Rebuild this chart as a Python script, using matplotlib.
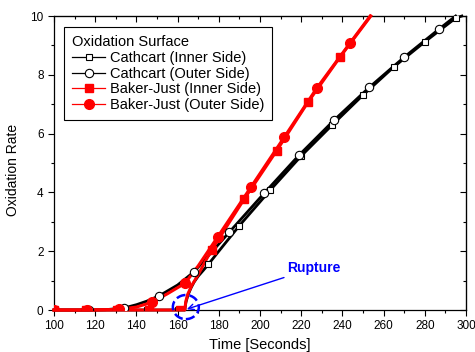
import matplotlib
matplotlib.use("Agg")
import matplotlib.pyplot as plt
from matplotlib.patches import Ellipse

plt.rcParams['font.family'] = ['Liberation Sans', 'DejaVu Sans']

# line traces
cath_in_x = [100, 163.5, 164, 165, 166.5, 168, 170, 172.5, 175, 180, 190, 205, 220, 235, 250, 265, 280, 295, 298]
cath_in_y = [0, 0, 0.25, 0.5, 0.75, 0.95, 1.15, 1.35, 1.56, 2.0, 2.87, 4.08, 5.24, 6.29, 7.31, 8.27, 9.12, 9.93, 10.0]
cath_out_x = [100, 117, 125, 134, 140, 145, 151, 160, 168, 175, 185, 202, 219, 236, 253, 270, 287, 295]
cath_out_y = [0, 0, 0.01, 0.07, 0.18, 0.3, 0.48, 0.85, 1.3, 1.85, 2.64, 3.97, 5.27, 6.46, 7.57, 8.6, 9.56, 10.0]
bj_in_x = [100, 163.5, 164, 165, 167, 170, 173, 176.5, 192.2, 208.1, 223.2, 238.8, 253.8]
bj_in_y = [0, 0, 0.3, 0.55, 0.85, 1.2, 1.6, 2.04, 3.76, 5.42, 7.06, 8.6, 10.0]
bj_out_x = [100, 115, 131.5, 140, 147.4, 155, 163.6, 170, 179.5, 195.5, 211.7, 227.5, 243.7, 253.5]
bj_out_y = [0, 0, 0.02, 0.1, 0.26, 0.55, 0.91, 1.5, 2.49, 4.17, 5.87, 7.54, 9.08, 10.0]

# marker positions
cath_in_mx = [100, 115, 130, 145, 160, 175, 190, 205, 220, 235, 250, 265, 280, 295]
cath_in_my = [0, 0, 0, 0, 0, 1.56, 2.87, 4.08, 5.24, 6.29, 7.31, 8.27, 9.12, 9.93]
cath_out_mx = [100, 117, 134, 151, 168, 185, 202, 219, 236, 253, 270, 287]
cath_out_my = [0, 0, 0.07, 0.48, 1.3, 2.64, 3.97, 5.27, 6.46, 7.57, 8.6, 9.56]
bj_in_mx = [100, 115.3, 130.6, 145.9, 161.2, 176.5, 192.2, 208.1, 223.2, 238.8]
bj_in_my = [0, 0, 0, 0, 0, 2.04, 3.76, 5.42, 7.06, 8.6]
bj_out_mx = [100, 115.8, 131.5, 147.4, 163.6, 179.5, 195.5, 211.7, 227.5, 243.7]
bj_out_my = [0, 0, 0.02, 0.26, 0.91, 2.49, 4.17, 5.87, 7.54, 9.08]

fig = plt.figure(figsize=(4.75, 3.52), dpi=100)
ax = fig.add_axes([0.1137, 0.1193, 0.8673, 0.8352])

ax.plot(cath_in_x, cath_in_y, color='k', lw=2.0, clip_on=False, zorder=3)
ax.plot(cath_out_x, cath_out_y, color='k', lw=2.0, clip_on=False, zorder=3)
ax.plot(bj_in_x, bj_in_y, color='red', lw=2.2, clip_on=False, zorder=4)
ax.plot(bj_out_x, bj_out_y, color='red', lw=2.2, clip_on=False, zorder=4)

# markers are clipped at the axes, so the ones on y=0 show only half
ax.plot(cath_in_mx, cath_in_my, ls='none', marker='s', ms=5, mfc='white', mec='k', mew=0.8, zorder=5)
ax.plot(cath_out_mx, cath_out_my, ls='none', marker='o', ms=6, mfc='white', mec='k', mew=0.8, zorder=5)
ax.plot(bj_in_mx, bj_in_my, ls='none', marker='s', ms=6, color='red', zorder=6)
ax.plot(bj_out_mx, bj_out_my, ls='none', marker='o', ms=7, color='red', zorder=6)

# legend handles
h1, = ax.plot([], [], color='k', lw=0.9, marker='s', ms=5, mfc='white', mec='k', mew=0.8)
h2, = ax.plot([], [], color='k', lw=0.9, marker='o', ms=6, mfc='white', mec='k', mew=0.8)
h3, = ax.plot([], [], color='red', lw=0.9, marker='s', ms=6)
h4, = ax.plot([], [], color='red', lw=0.9, marker='o', ms=7)
leg = ax.legend([h1, h2, h3, h4],
                ['Cathcart (Inner Side)', 'Cathcart (Outer Side)',
                 'Baker-Just (Inner Side)', 'Baker-Just (Outer Side)'],
                title='Oxidation Surface', loc='upper left',
                bbox_to_anchor=(0.024, 0.962), fontsize=10.5, title_fontsize=10.5,
                frameon=True, fancybox=False, edgecolor='k', framealpha=1,
                handlelength=2.3, handletextpad=0.3, labelspacing=0.12,
                borderpad=0.55, borderaxespad=0)
leg.get_frame().set_linewidth(0.8)
leg._legend_box.align = 'left'

# rupture marker
ax.add_patch(Ellipse((164, 0.1), 12.6, 0.82, fill=False, ec='blue', ls='--', lw=1.8, clip_on=False, zorder=7))
ax.annotate('Rupture', xy=(164.5, 0.03), xytext=(213, 1.43), color='blue',
            fontsize=10, fontweight='bold', va='center',
            arrowprops=dict(arrowstyle='->', color='blue', lw=1, shrinkA=0, shrinkB=0))

ax.set_xlim(100, 300)
ax.set_ylim(0, 10)
ax.set_xticks(range(100, 301, 20))
ax.set_xticks(range(110, 300, 20), minor=True)
ax.set_yticks(range(0, 11, 2))
ax.set_yticks(range(1, 10, 2), minor=True)
ax.tick_params(which='both', direction='out', labelsize=8.5, width=0.8)
ax.tick_params(which='major', length=4)
ax.tick_params(which='minor', length=2.5)

top = ax.secondary_xaxis('top')
top.set_xticks(range(100, 301, 20))
top.set_xticks(range(110, 300, 20), minor=True)
top.tick_params(which='both', direction='in', labeltop=False, width=0.8)
top.tick_params(which='major', length=4)
top.tick_params(which='minor', length=2.5)
right = ax.secondary_yaxis('right')
right.set_yticks(range(0, 11, 2))
right.set_yticks(range(1, 10, 2), minor=True)
right.tick_params(which='both', direction='in', labelright=False, width=0.8)
right.tick_params(which='major', length=4)
right.tick_params(which='minor', length=2.5)

for s in ax.spines.values():
    s.set_linewidth(0.9)

ax.set_xlabel('Time [Seconds]', fontsize=10.5)
ax.set_ylabel('Oxidation Rate', fontsize=10)
ax.xaxis.set_label_coords(0.5, -0.095)
ax.yaxis.set_label_coords(-0.083, 0.476)

fig.savefig('out.png', dpi=100)
